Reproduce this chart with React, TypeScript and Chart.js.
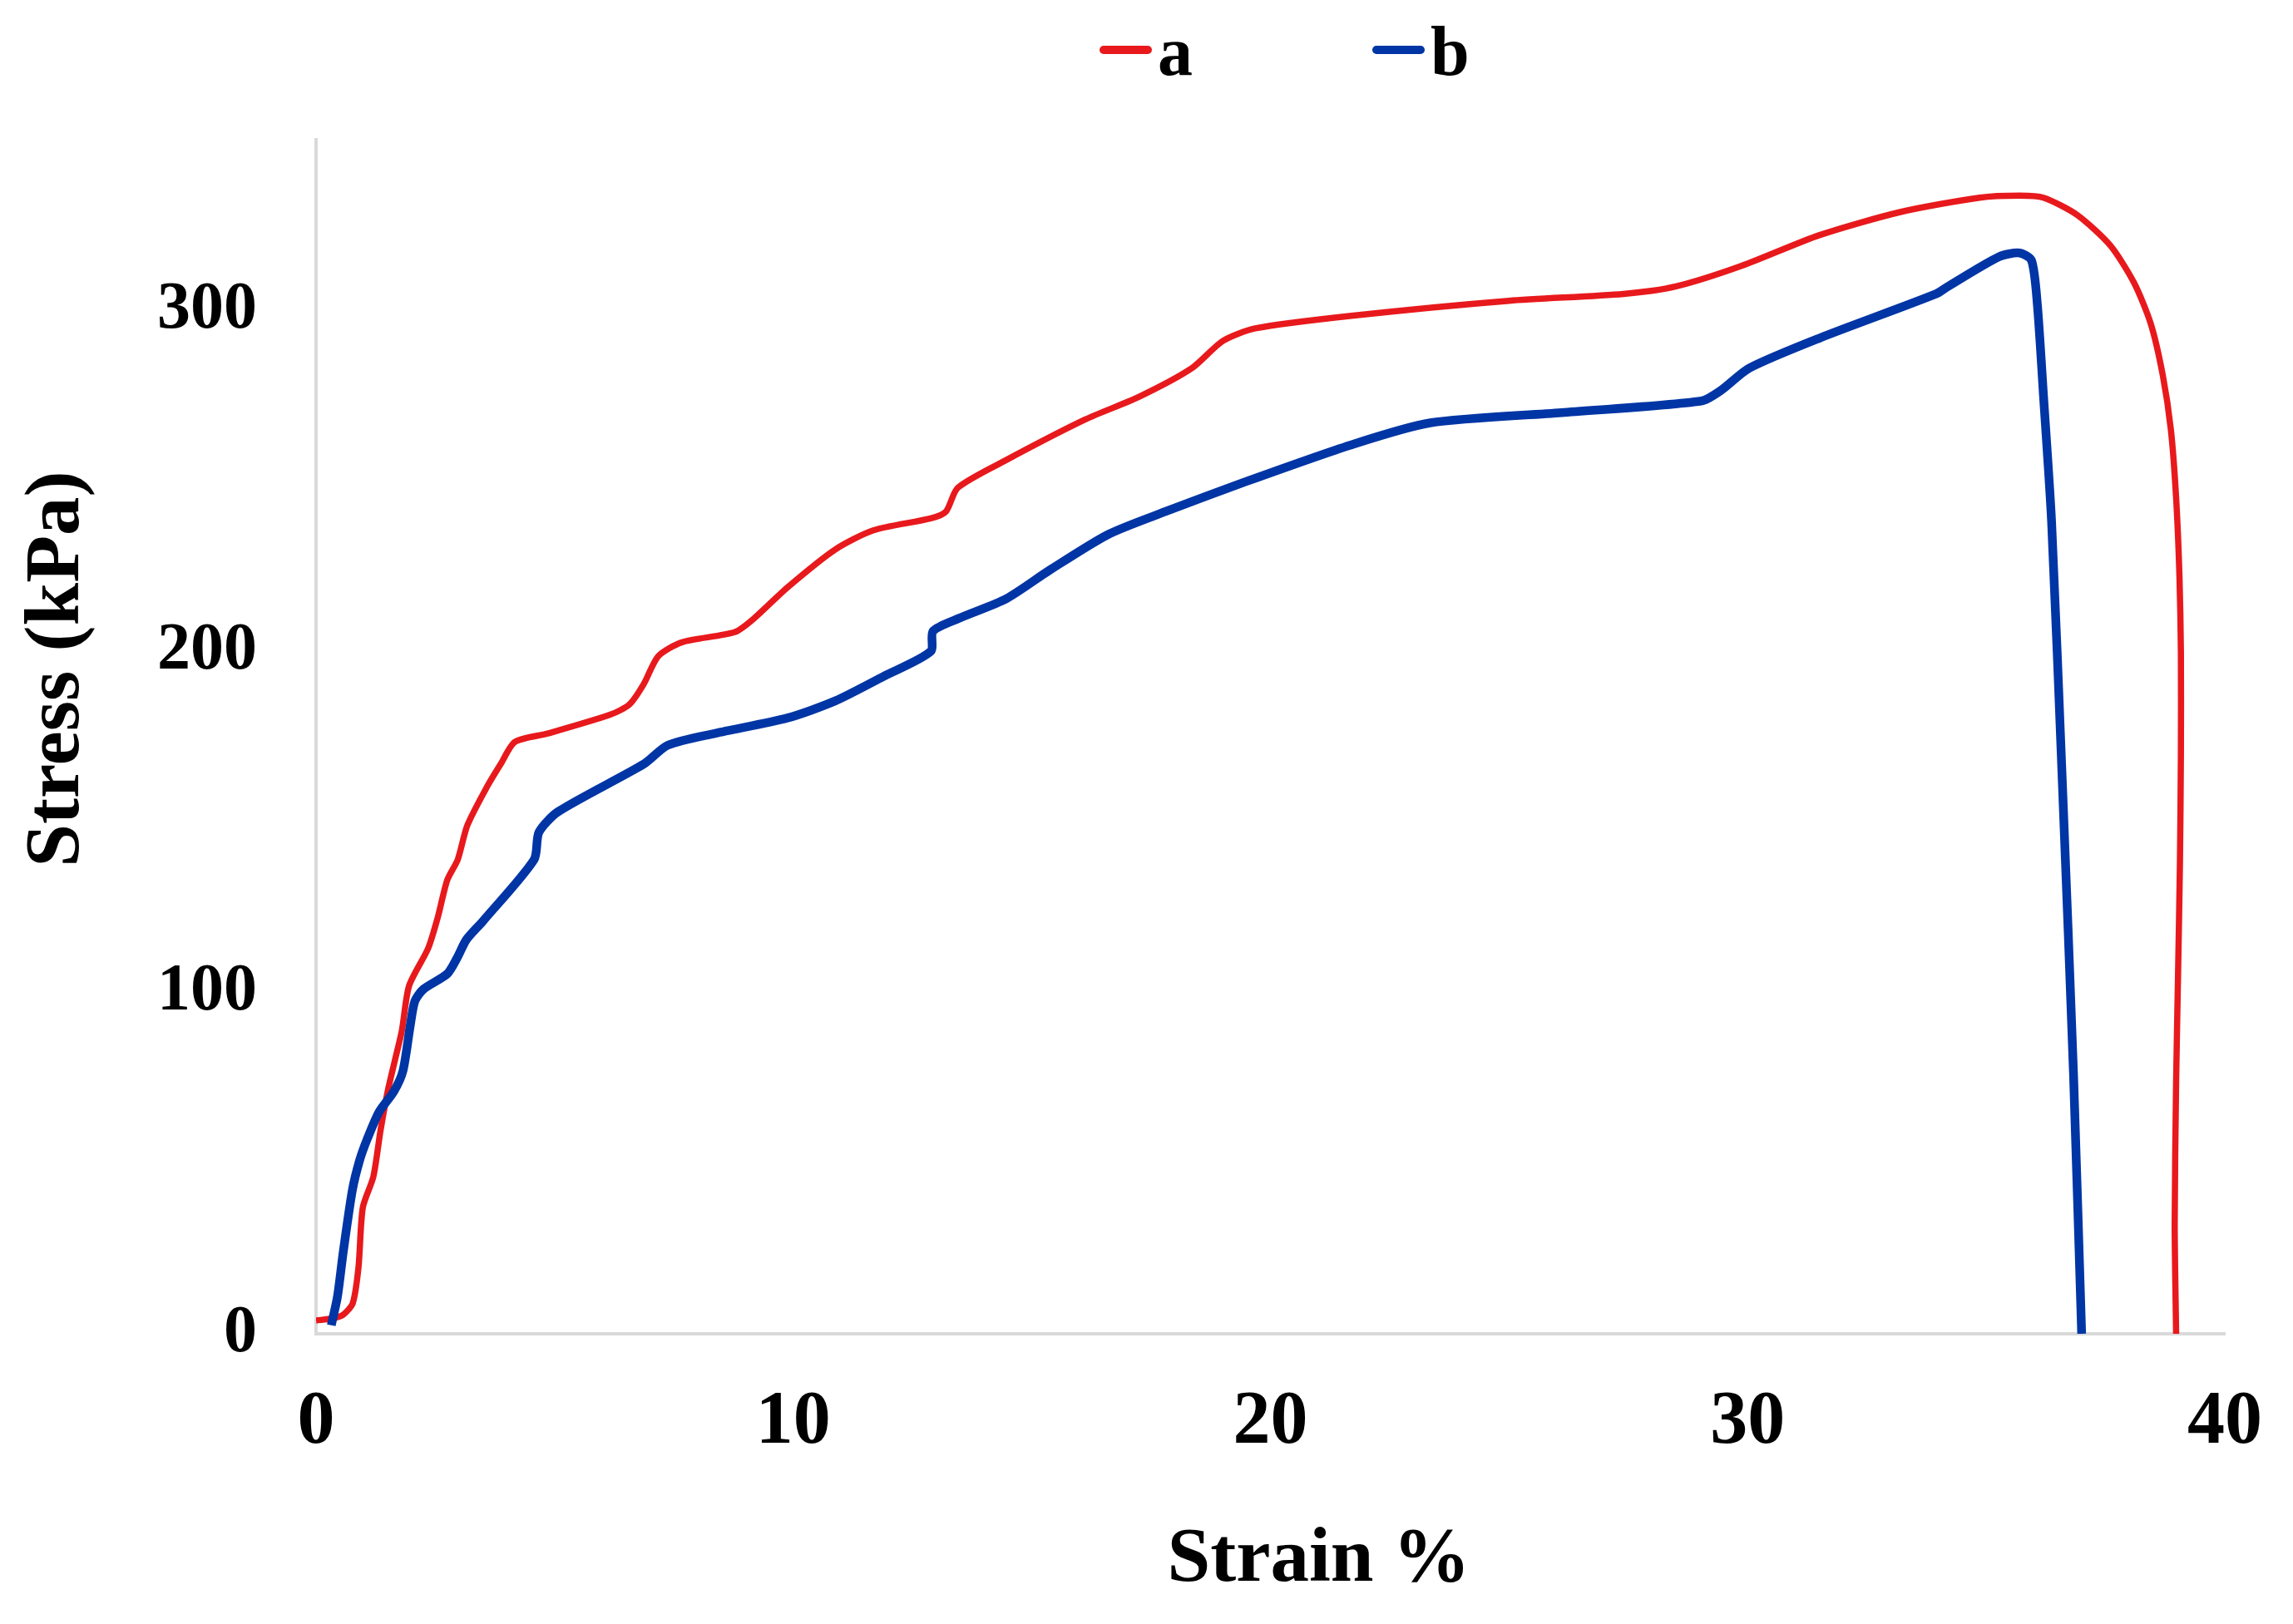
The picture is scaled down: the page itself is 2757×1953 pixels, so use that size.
import { useEffect, useRef } from 'react';
import { Chart, registerables } from 'chart.js';

Chart.register(...registerables);

// ---- data ----
const seriesNames = ['a', 'b'];

const strainA = [
  0.0, 0.35, 0.57, 0.77, 0.89, 0.98, 1.2, 1.35, 1.5, 1.65, 1.8, 1.95, 2.35, 2.55, 2.75, 2.97, 3.17, 3.57,
  3.87, 4.17, 4.87, 6.17, 6.57, 6.87, 7.17, 7.67, 8.78, 9.18, 9.88, 10.88, 11.68, 12.88, 13.2, 13.45,
  14.45, 16.12, 17.24, 18.35, 19.0, 19.68, 21.7, 25.0, 27.4, 28.5, 29.87, 31.5, 33.2, 34.86, 35.7,
  36.2, 36.9, 37.6, 38.1, 38.45, 38.7, 38.87, 38.98, 39.05, 39.08, 39.08, 39.06, 39.02, 38.98, 38.95, 38.98,
];
const stressA = [
  3.9, 4.5, 5.6, 9, 19.6, 37, 46, 59.5, 71, 80, 89, 102, 113, 122, 133, 139, 149, 160,
  167, 173.5, 176, 181.5, 184.5, 190.5, 198.6, 202.7, 205.7, 209.7, 218.8, 229.9, 235.5, 239, 241, 248,
  256, 268, 274.6, 283, 291, 294.7, 298.4, 302.8, 304.8, 307, 313, 322, 328.8, 333, 333.6,
  333, 328, 319, 308, 296, 281, 265, 245, 222, 200, 170, 138, 105, 74, 32, 0,
];

const strainB = [
  0.32, 0.45, 0.57, 0.76, 0.91, 1.07, 1.32, 1.63, 1.82, 1.97, 2.07, 2.25, 2.75, 2.95, 3.15, 3.5, 4.57,
  4.67, 5.07, 6.87, 7.37, 8.37, 9.88, 10.88, 11.88, 12.88, 12.93, 13.47, 14.47, 15.37, 16.6, 17.8,
  19.45, 21.68, 23.35, 26.1, 29.03, 29.45, 30.03, 31.5, 33.95, 34.2, 35.27, 35.7, 35.95, 36.07, 36.2,
  36.37, 36.6, 36.83, 37.0,
];
const stressB = [
  2.5, 11, 24, 42, 50.7, 57, 65, 71, 77, 90, 97.5, 101, 105.5, 110, 115.5, 121, 139,
  147, 153, 167, 172.5, 176, 180.5, 185.5, 192.6, 200, 206, 209.7, 215.5, 223.8, 234.3, 241,
  249.6, 260.5, 267, 270, 273.4, 276.6, 283, 291.8, 304.8, 307, 315.7, 316.8, 314.6, 302, 275,
  238, 160, 76, 0,
];

const xTickValues = [0, 10, 20, 30, 40];
const yTickValues = [0, 100, 200, 300];
const xTitle = 'Strain %';
const yTitle = 'Stress (kPa)';

// ---- styles ----
const RED = '#E8191C';
const BLUE = '#0035A5';
const FONT = "'Liberation Serif', 'Times New Roman', serif";
const AXIS_GREY = '#D9D9D9';

const toPoints = (xs: number[], ys: number[]) => xs.map((x, i) => ({ x, y: ys[i] }));

const topLegend = {
  id: 'topLegend',
  afterDraw(chart: any) {
    const ctx = chart.ctx as CanvasRenderingContext2D;
    const startX = 1314;
    const pitch = 328;
    const lineLen = 63;
    const lineY = 52;
    const baseline = 82;
    ctx.save();
    ctx.font = `bold 84px ${FONT}`;
    ctx.textBaseline = 'alphabetic';
    ctx.textAlign = 'left';
    chart.data.datasets.forEach((ds: any, i: number) => {
      const x0 = startX + i * pitch;
      ctx.strokeStyle = ds.borderColor;
      ctx.lineWidth = 10;
      ctx.lineCap = 'round';
      ctx.beginPath();
      ctx.moveTo(x0 + 5, lineY);
      ctx.lineTo(x0 + lineLen - 5, lineY);
      ctx.stroke();
      ctx.fillStyle = '#000000';
      ctx.fillText(ds.label, x0 + lineLen + 7, baseline);
    });
    ctx.restore();
  },
};

export default function App() {
  const canvasRef = useRef<HTMLCanvasElement | null>(null);

  useEffect(() => {
    if (!canvasRef.current) return;
    const chart = new Chart(canvasRef.current, {
      type: 'scatter',
      data: {
        datasets: [
          {
            label: seriesNames[0],
            data: toPoints(strainA, stressA),
            showLine: true,
            borderColor: RED,
            backgroundColor: RED,
            borderWidth: 7.5,
            pointRadius: 0,
            tension: 0.25,
            order: 1,
          },
          {
            label: seriesNames[1],
            data: toPoints(strainB, stressB),
            showLine: true,
            borderColor: BLUE,
            backgroundColor: BLUE,
            borderWidth: 10.5,
            pointRadius: 0,
            tension: 0.25,
            order: 0,
          },
        ],
      },
      options: {
        animation: false,
        responsive: true,
        maintainAspectRatio: false,
        layout: { padding: { top: 160, right: 74, left: 0, bottom: 0 } },
        plugins: {
          legend: { display: false },
          tooltip: { enabled: false },
        },
        scales: {
          x: {
            type: 'linear',
            min: 0,
            max: 40,
            afterFit: (s: any) => {
              s.height = 341;
            },
            afterBuildTicks: (s: any) => {
              s.ticks = xTickValues.map((v) => ({ value: v }));
            },
            grid: { display: false, drawTicks: false },
            border: { display: true, color: AXIS_GREY, width: 4 },
            ticks: {
              padding: 0,
              color: '#000000',
              font: { family: FONT, size: 90, weight: 'bold', lineHeight: 2.4 },
              maxRotation: 0,
            },
            title: {
              display: true,
              text: '     ' + xTitle,
              color: '#000000',
              font: { family: FONT, size: 93, weight: 'bold' },
              padding: { top: 0, bottom: 12 },
            },
          },
          y: {
            type: 'linear',
            min: 0,
            max: 350,
            afterFit: (s: any) => {
              s.width = 372;
            },
            afterBuildTicks: (s: any) => {
              s.ticks = yTickValues.map((v) => ({ value: v }));
            },
            grid: { display: false, drawTicks: false },
            border: { display: true, color: AXIS_GREY, width: 4 },
            ticks: {
              padding: 71,
              color: '#000000',
              font: { family: FONT, size: 80, weight: 'bold' },
            },
            title: {
              display: true,
              text: '       ' + yTitle,
              color: '#000000',
              font: { family: FONT, size: 93, weight: 'bold' },
              padding: { top: 6, bottom: 0 },
            },
          },
        },
      },
      plugins: [topLegend],
    });
    return () => chart.destroy();
  }, []);

  return (
    <div style={{ width: '2741px', height: '1937px', position: 'relative', background: '#ffffff' }}>
      <canvas ref={canvasRef} />
    </div>
  );
}
